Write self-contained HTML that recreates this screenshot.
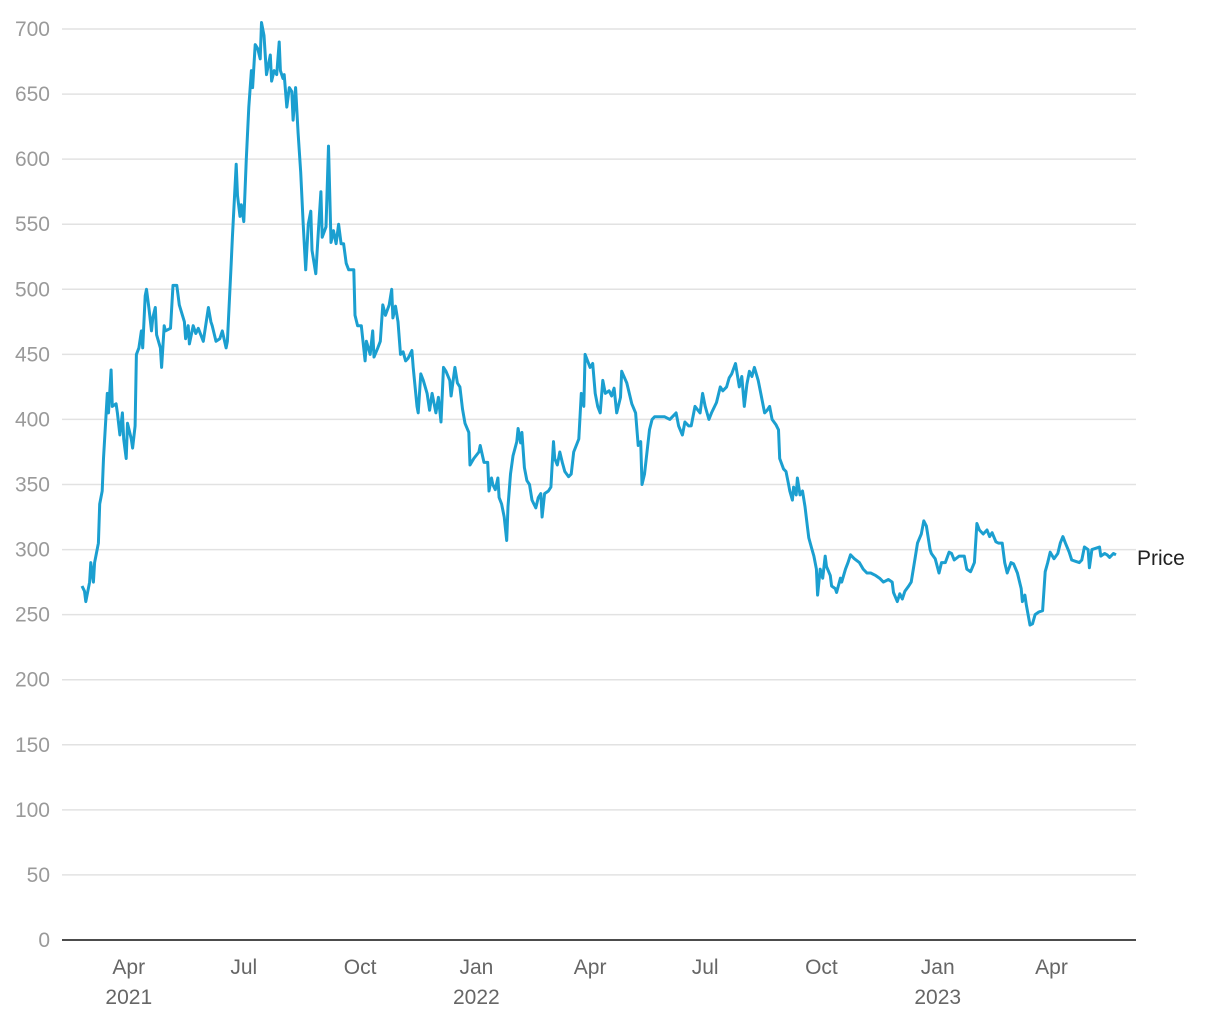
<!DOCTYPE html>
<html><head><meta charset="utf-8"><style>
html,body{margin:0;padding:0;background:#fff;}
svg{display:block;font-family:"Liberation Sans",sans-serif;}
</style></head><body>
<svg id="chart" width="1220" height="1020" viewBox="0 0 1220 1020" xmlns="http://www.w3.org/2000/svg">
<g id="grid"></g>
<g id="yticks"></g>
<g id="xticks"></g>
<path id="line" fill="none" stroke="#1b9fd0" stroke-width="3" stroke-linejoin="round"></path>
<text id="series-label" font-size="21" fill="#222">Price</text>
<line x1="62" x2="1136" y1="940" y2="940" stroke="#111" stroke-width="1.5"></line>
</svg>
<script>
const startDate = "2021-02-23";
const dayOffsets = [0,2,3,6,7,9,10,13,14,16,17,20,21,23,24,27,28,30,32,33,35,36,39,40,42,43,45,47,48,50,51,53,55,56,58,59,62,63,65,66,70,72,75,77,81,82,84,85,88,90,92,96,100,102,103,106,109,111,114,115,118,119,122,123,125,126,128,130,132,134,135,137,139,141,142,144,146,149,150,152,154,156,157,159,160,162,164,166,167,169,171,173,175,177,179,181,182,185,187,189,190,193,195,197,199,201,203,205,207,209,211,215,216,218,221,224,225,228,230,231,234,236,238,240,243,245,246,248,250,252,254,256,258,261,262,265,266,268,270,273,275,277,280,282,284,286,288,291,292,295,297,299,301,303,306,307,310,314,315,318,321,322,324,325,327,329,330,332,334,336,337,339,341,344,345,347,348,350,352,354,356,359,361,363,364,366,369,371,373,374,376,378,380,382,385,387,389,393,395,397,398,400,402,404,406,408,410,412,414,417,419,421,423,426,427,431,433,435,438,440,442,443,445,447,449,451,453,457,461,465,470,472,475,477,480,482,485,489,491,493,496,498,502,505,507,510,512,514,517,520,522,524,526,528,530,532,535,537,540,542,544,546,549,551,552,555,557,559,560,562,563,565,566,568,570,572,574,575,577,579,581,582,584,586,588,589,592,593,596,597,600,601,604,606,608,611,615,618,621,624,628,631,634,638,641,642,645,647,649,651,654,656,659,661,664,666,668,671,672,675,678,680,683,686,688,690,694,698,700,703,706,708,710,713,716,718,720,723,725,728,730,732,735,737,740,743,744,746,747,750,752,754,757,760,762,764,766,769,772,774,776,778,781,783,786,789,791,793,796,797,799,802,805,806,809,811,813,816,818];
const prices = [272,268,260,275,290,275,290,305,335,345,370,420,405,438,410,412,405,388,405,385,370,397,385,378,395,450,455,468,455,495,500,485,468,478,486,465,455,440,472,468,470,503,503,488,475,462,472,458,472,466,470,460,486,475,472,460,462,468,455,460,520,540,596,572,556,565,552,600,640,668,655,688,685,677,705,695,665,680,660,668,665,690,668,662,665,640,655,652,630,655,620,590,550,515,550,560,530,512,545,575,540,548,610,536,545,535,550,535,535,520,515,515,480,472,472,445,460,450,468,448,455,460,488,480,488,500,478,487,475,450,452,445,447,453,440,410,405,435,430,420,407,420,405,417,398,440,437,430,418,440,428,425,408,397,390,365,370,375,380,367,367,345,355,350,346,355,340,335,325,307,333,358,372,383,393,382,390,363,353,350,338,332,340,343,325,343,345,348,383,370,365,375,367,360,356,358,375,385,420,410,450,445,440,443,420,410,405,430,420,422,418,424,405,417,437,428,420,412,405,380,383,350,358,375,392,400,402,402,402,400,405,395,388,398,395,395,410,405,420,410,400,405,413,425,422,425,432,435,443,425,433,410,427,437,433,440,430,420,405,407,410,400,396,392,370,362,360,350,345,338,348,342,355,342,345,333,317,309,302,295,285,265,285,278,295,287,280,272,270,267,278,275,285,290,296,293,290,285,282,282,280,278,275,277,275,267,260,266,262,268,272,275,293,305,312,322,318,300,297,293,282,290,290,298,297,292,295,295,285,283,290,320,315,312,315,310,313,306,305,305,290,282,290,289,282,270,260,265,258,242,243,250,252,253,283,290,298,293,297,305,310,305,298,292,291,290,292,302,300,286,300,301,302,295,297,296,294,297,296];
const yTicks = [0,50,100,150,200,250,300,350,400,450,500,550,600,650,700];
const xTickDates = ["2021-04-01","2021-07-01","2021-10-01","2022-01-01","2022-04-01","2022-07-01","2022-10-01","2023-01-01","2023-04-01"];
const xTickMonth = ["Apr","Jul","Oct","Jan","Apr","Jul","Oct","Jan","Apr"];
const xTickYear = ["2021","","","2022","","","","2023",""];

const NS = "http://www.w3.org/2000/svg";
const t0 = Date.parse(startDate);
function xDays(d){ return 82 + d * 1.264; }
function xDate(s){ return xDays((Date.parse(s) - t0) / 86400000); }
function y(v){ return 940 - v * (911 / 700); }

const grid = document.getElementById('grid');
const yt = document.getElementById('yticks');
yTicks.forEach(v => {
  if (v > 0) {
    const l = document.createElementNS(NS, 'line');
    
    
    l.setAttribute('x1', 62); l.setAttribute('x2', 1136);
    l.setAttribute('y1', y(v)); l.setAttribute('y2', y(v));
    l.setAttribute('stroke', '#e2e2e2'); l.setAttribute('stroke-width', '1.5');
    grid.appendChild(l);
  }
  const t = document.createElementNS(NS, 'text');
  
  
  t.setAttribute('x', 50); t.setAttribute('y', y(v) + 7);
  t.setAttribute('text-anchor', 'end'); t.setAttribute('font-size', '21'); t.setAttribute('fill', '#9a9a9a');
  t.textContent = v;
  yt.appendChild(t);
});

const xt = document.getElementById('xticks');
xTickDates.forEach((d, i) => {
  const x = xDate(d);
  const t = document.createElementNS(NS, 'text');
  
  
  t.setAttribute('x', x); t.setAttribute('y', 974);
  t.setAttribute('text-anchor', 'middle'); t.setAttribute('font-size', '21'); t.setAttribute('fill', '#666');
  t.textContent = xTickMonth[i];
  xt.appendChild(t);
  if (xTickYear[i]) {
    const t2 = document.createElementNS(NS, 'text');
    
    
    t2.setAttribute('x', x); t2.setAttribute('y', 1004);
    t2.setAttribute('text-anchor', 'middle'); t2.setAttribute('font-size', '21'); t2.setAttribute('fill', '#666');
    t2.textContent = xTickYear[i];
    xt.appendChild(t2);
  }
});

let dStr = '';
prices.forEach((v, i) => {
  dStr += (i ? 'L' : 'M') + xDays(dayOffsets[i]).toFixed(1) + ',' + y(v).toFixed(1);
});
document.getElementById('line').setAttribute('d', dStr);
const lab = document.getElementById('series-label');
lab.setAttribute('x', 1137);
lab.setAttribute('y', y(prices[prices.length - 1]) + 10);
</script>
</body></html>
